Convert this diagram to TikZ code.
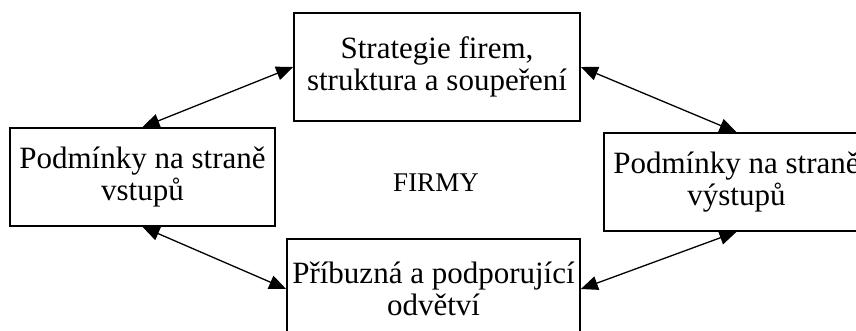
\documentclass[tikz,border=0pt]{standalone}
\usepackage{fontspec}
\setmainfont{Liberation Serif}
\usetikzlibrary{arrows.meta}
\begin{document}
\begin{tikzpicture}[x=1pt,y=-1pt,
 box/.style={draw,line width=1.7pt,inner sep=0pt,align=center,font=\fontsize{31}{32}\selectfont},
 link/.style={line width=1.3pt,{Triangle[length=17pt,width=14pt]}-{Triangle[length=17pt,width=14pt]}}]
\useasboundingbox (0,0) rectangle (856,331);
\clip (0,0) rectangle (856,331);
\node[box,minimum width=286pt,minimum height=108pt] (T) at (437,67) {Strategie firem,\\struktura a soupeření};
\node[box,minimum width=265pt,minimum height=98pt] (L) at (142.5,177) {Podmínky na straně\\vstupů};
\node[box,minimum width=265pt,minimum height=98pt] (R) at (736.5,182) {Podmínky na straně\\výstupů};
\node[box,minimum width=293pt,minimum height=100pt] (B) at (433.5,289) {Příbuzná a podporující\\odvětví};
\node[font=\fontsize{27}{28}\selectfont] (F) at (436,182.5) {FIRMY};
\draw[link] (L.north) -- (T.west);
\draw[link] (T.east) -- (R.north);
\draw[link] (L.south) -- (B.west);
\draw[link] (B.east) -- (R.south);
\end{tikzpicture}
\end{document}
